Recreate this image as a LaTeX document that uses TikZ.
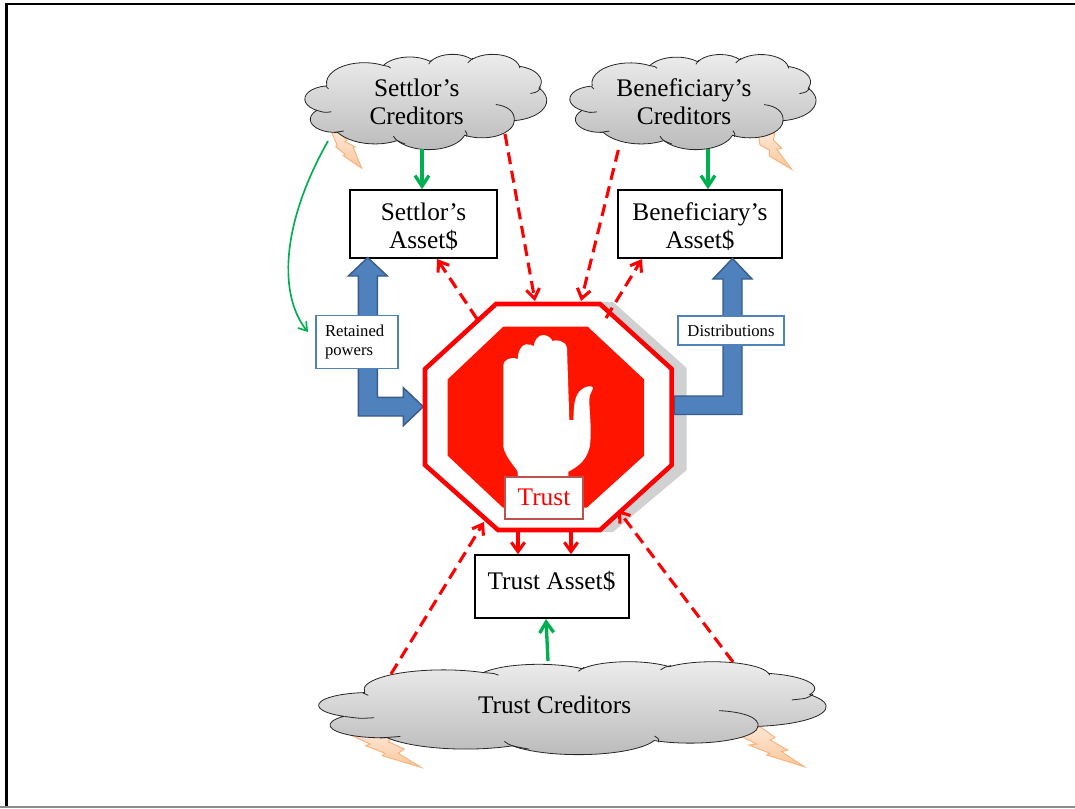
\documentclass[tikz,border=0pt]{standalone}
\usepackage{fontspec}
\setmainfont{Liberation Serif}
\usetikzlibrary{arrows.meta,calc}
\definecolor{grn}{HTML}{00B050}
\definecolor{redd}{HTML}{FF0000}
\definecolor{stopred}{HTML}{FF1400}
\definecolor{blu}{HTML}{4F81BD}
\definecolor{bluedge}{HTML}{385D8A}
\definecolor{trustedge}{HTML}{C0504D}
\definecolor{boltedge}{HTML}{F9B27A}
\definecolor{bolttop}{HTML}{FDE6D4}
\definecolor{boltbot}{HTML}{FBC79C}
\tikzset{
  bx/.style 2 args={draw=black,line width=1.15pt,fill=white,minimum width=#1*0.75pt,minimum height=#2*0.75pt,inner sep=0pt},
  lbl/.style 2 args={draw=blu,line width=1.1pt,fill=white,minimum width=#1*0.75pt,minimum height=#2*0.75pt,inner sep=0pt,font=\fontsize{12.5}{14.5}\selectfont},
  cloudtext/.style={inner sep=0pt,align=center,font=\fontsize{19}{20.8}\selectfont},
  gbig/.style={draw=grn,line width=2.5pt,-{Straight Barb[length=8pt,width=10.5pt,line width=2.5pt]}},
  gthin/.style={draw=grn,line width=1.25pt,-{Straight Barb[length=6pt,width=8pt,line width=1.25pt]}},
  rdash/.style={draw=redd,line width=2.3pt,dash pattern=on 9pt off 5pt,-{Straight Barb[length=7pt,width=10pt,line width=2.3pt]}},
  rsolid/.style={draw=redd,line width=2.3pt,-{Straight Barb[length=7pt,width=10pt,line width=2.3pt]}},
  blockarrow/.style={draw=bluedge,line width=1.1pt,fill=blu},
  bolt/.style={draw=boltedge,line width=0.7pt,top color=bolttop,bottom color=boltbot},
  cloudfill/.style={draw=black!85,line width=0.6pt,top color=black!7,bottom color=black!27},
  cloudline/.style={draw=black!85,line width=0.6pt},
}
\newcommand{\drawcloud}[4]{%
  \pgfmathsetmacro{\cx}{#3*0.75/432}%
  \pgfmathsetmacro{\cy}{#4*0.75/432}%
  \begin{scope}[shift={(#1,#2)},x=\cx pt,y=-\cy pt]
    \path[cloudfill] (39,143.7)
      \foreach \w/\h/\s/\d in {67.53/91.90/-190.4875/123.7805,
        53.33/72.67/-144.1024/89.9452,
        43.65/59.45/-145.8079/99.7230,
        48.57/65.95/-130.9861/117.2417,
        53.33/72.73/-78.7089/109.0269,
        67.75/92.20/-46.2673/130.2690,
        57.85/78.67/0.6250/114.0333,
        67.52/92.15/22.4516/115.1726,
        77.20/105.43/66.2426/75.7110,
        43.60/59.18/-274.9421/146.7356,
        43.45/59.45/-246.8285/152.5189}{%
        \pgfextra{%
          \pgfmathsetmacro{\aa}{atan2(\w*sin(\s),\h*cos(\s))}%
          \pgfmathsetmacro{\bb}{atan2(\w*sin(\s+\d),\h*cos(\s+\d))}%
          \pgfmathsetmacro{\dd}{Mod(\bb-\aa,360)}%
          \pgfmathsetmacro{\ee}{\aa+\dd}%
        }
        arc[x radius=\w,y radius=\h,start angle=\aa,end angle=\ee]
      } -- cycle;
    \draw[cloudline] (46.93,261.77) .. controls (35,266) .. (22,256);
    \draw[cloudline] (69.28,348.99) .. controls (60,354) .. (52,356);
    \draw[cloudline] (158,372) .. controls (163,392) .. (179,408);
    \draw[cloudline] (286,347) .. controls (290,362) .. (289,376);
    \draw[cloudline] (341,229) .. controls (362,235) and (376,262) .. (374,305);
    \draw[cloudline] (403,179) .. controls (416,172) .. (421,152);
    \draw[cloudline] (383,54) .. controls (384,60) .. (384,64);
    \draw[cloudline] (291,39.5) .. controls (294,28) .. (300,19);
    \draw[cloudline] (221,46) .. controls (223,35) .. (226,27);
    \draw[cloudline] (140,52) .. controls (150,56) .. (153,64);
    \draw[cloudline] (37.5,147) .. controls (39,153) .. (42,158);
  \end{scope}%
}
\begin{document}
\begin{tikzpicture}[x=0.75pt,y=-0.75pt]
\useasboundingbox (0,0) rectangle (1075,808);
\fill[white] (0,0) rectangle (1075,808);
% frame
\fill[black] (5,2.5) rectangle (1075,4.8);
\fill[black] (5,2.5) rectangle (8,806);
\fill[black!45] (0,805.8) rectangle (1075,808);

% lightning bolts
\path[bolt] (332,133) -- (337.3,145.7) -- (335.7,146.7) -- (345,154.3) -- (343.3,155.7) -- (361.7,168.3) -- (353.3,147.7) -- (355,146.7) -- (345,141.7) -- (346.7,140) -- (340,133) -- cycle;
\path[bolt] (758.3,135) -- (760,145) -- (769.3,150) -- (769.3,156) -- (791.7,169.3) -- (776.7,149.3) -- (781.7,148.3) -- (773.3,140) -- (775,133) -- cycle;
\path[bolt] (348.3,734) -- (370,744) -- (365.7,745.7) -- (385,753.3) -- (382.3,755.7) -- (421,767.3) -- (398.3,753.3) -- (404.3,749) -- (388.3,741.7) -- (391,738.3) -- (385,733) -- cycle;
\path[bolt] (738.3,735) -- (756.7,744) -- (749,745) -- (770,753.3) -- (766.7,755) -- (804.3,766.7) -- (781.7,751.7) -- (787.7,750) -- (770,740) -- (775,737.3) -- (760,726.7) -- cycle;

% connector ends
\coordinate (gsStart) at (422,149);
\coordinate (gbStart) at (708,149);
\coordinate (gtStart) at (548,661);
\coordinate (gtEnd) at (546,619);
\coordinate (curveStart) at (328,141);
\coordinate (curveEnd) at (308,332);
\coordinate (rs1) at (505,134);
\coordinate (rs2) at (618.3,150);
\coordinate (rt1) at (391,674);
\coordinate (rt2) at (733,662);
\coordinate (octTopA) at (535,301);
\coordinate (octTopB) at (581,301);
\coordinate (octUL) at (477,319);
\coordinate (octUR) at (606,318);
\coordinate (octBotA) at (518,532);
\coordinate (octBotB) at (571,532);
\coordinate (octLL) at (484,522);
\coordinate (octLR) at (618,510);
\coordinate (boxSe) at (437,259);
\coordinate (boxBe) at (642,259);

% boxes
\node[bx={147}{68}] (sbox) at (423.5,224) {};
\node[cloudtext] (sboxT) at (423.5,226.5) {Settlor’s\\Asset\$};
\node[bx={164}{68}] (bbox) at (700,224) {};
\node[cloudtext] (bboxT) at (700,226.5) {Beneficiary’s\\Asset\$};
\node[bx={154}{63}] (tbox) at (552,586.5) {};
\node[cloudtext] (tboxT) at (551.5,581) {Trust Asset\$};

% shadow and octagon
\fill[black!18] (600,302) -- (613,302) -- (686.7,368) -- (686.7,470) -- (613,532) -- (600,532) -- cycle;

% block arrows
\path[blockarrow] (358.3,276) -- (348.3,276) -- (367.7,257.6) -- (387.3,276) -- (377.3,276) -- (377.3,397.3) -- (403.3,397.3) -- (403.3,387.7) -- (423.3,406.7) -- (403.3,425.7) -- (403.3,416) -- (358.3,416) -- cycle;
\path[blockarrow] (674.3,396) -- (723,396) -- (723,279) -- (713,279) -- (732.5,258.5) -- (752,279) -- (742,279) -- (742,414.5) -- (674.3,414.5) -- cycle;

\path[draw=redd,line width=3.4pt,fill=white,miter limit=10] (496,304) -- (600,304) -- (671.7,369) -- (671.7,465) -- (600,530) -- (498,530) -- (425,465) -- (425,369) -- cycle;
\fill[stopred] (503.3,326.7) -- (587.7,326.7) -- (644,379.3) -- (644,455.7) -- (586.7,507.7) -- (503,507.7) -- (447.7,455.7) -- (447.7,379.3) -- cycle;

% hand
\begin{scope}[shift={(490,325)},x=0.25pt,y=-0.25pt]
\fill[white] (85,460) -- (82,438) .. controls (75,425) and (45,395) .. (40,365)
  -- (40,120) .. controls (40,105) and (65,92) .. (83,103)
  .. controls (83,80) and (95,58) .. (108,58) .. controls (118,57) and (128,60) .. (131,64)
  .. controls (133,45) and (145,30) .. (160,30) .. controls (172,30) and (185,40) .. (187,48)
  .. controls (195,43) and (228,45) .. (231,70)
  -- (238,285) -- (250,285) .. controls (252,240) and (250,195) .. (295,184)
  .. controls (305,182) and (312,187) .. (307,195) .. controls (303,203) and (298,210) .. (298,225)
  .. controls (298,260) and (305,310) .. (301,350) .. controls (298,400) and (265,425) .. (235,440)
  -- (235,460) -- cycle;
\end{scope}

% labels over arrows
\node[lbl={82}{53},align=left,text width=48pt] (retained) at (357,342) {Retained\\powers};
\node[lbl={106}{29}] (dist) at (731,330.5) {Distributions};
\node[draw=trustedge,line width=1.35pt,fill=white,minimum width=58pt,minimum height=32pt,inner sep=0pt,text=redd,font=\fontsize{19}{20.8}\selectfont] (trust) at (544,498) {\raisebox{1.5pt}{Trust}};

% clouds
\drawcloud{305}{54}{241.7}{95.3}
\drawcloud{570}{54.2}{246}{95.1}
\drawcloud{319}{661.4}{507}{92.9}
\node[cloudtext] (csT) at (416.7,102) {Settlor’s\\Creditors};
\node[cloudtext] (cbT) at (684,102) {Beneficiary’s\\Creditors};
\node[cloudtext] (ctT) at (554.6,705) {Trust Creditors};

% green connectors
\draw[gbig] (gsStart) -- (gsStart |- sbox.north);
\draw[gbig] (gbStart) -- (gbStart |- bbox.north);
\draw[gbig] (gtStart) -- (gtEnd);
\draw[gthin] (curveStart) .. controls (280,226) and (279,296) .. (curveEnd);

% red connectors
\draw[rdash] (rs1) -- (octTopA);
\draw[rdash] (rs2) -- (octTopB);
\draw[rdash] (octUL) -- (boxSe);
\draw[rdash] (octUR) -- (boxBe);
\draw[rsolid] (octBotA) -- (octBotA |- tbox.north);
\draw[rsolid] (octBotB) -- (octBotB |- tbox.north);
\draw[rdash] (rt1) -- (octLL);
\draw[rdash] (rt2) -- (octLR);
\end{tikzpicture}
\end{document}
